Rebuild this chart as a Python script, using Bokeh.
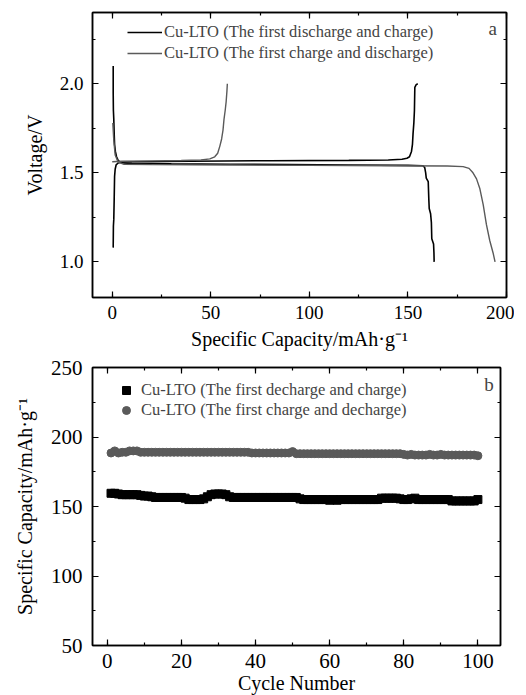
from bokeh.plotting import figure
from bokeh.models import (LinearAxis, SingleIntervalTicker, Legend, LegendItem, Label, Range1d,
                          PrintfTickFormatter, CustomLabelingPolicy)
from bokeh.layouts import column
from bokeh.embed import file_html
from bokeh.resources import INLINE

FONT = "Liberation Serif"
BLACK = "#000000"
GREY = "#5a5a5a"

# ---------------- panel a data (voltage profiles) ----------------
dc_disch_cap = [0.5, 0.5, 0.6, 0.8, 1.0, 1.2, 1.6, 2.2, 3.0, 4.0, 5.5, 10, 30, 60, 90, 120, 150,
                157.5, 158.5, 159.0, 159.3, 160.3, 160.6, 160.8, 161.5, 161.9, 162.1, 163.0, 163.2, 163.3]
dc_disch_v = [2.10, 1.95, 1.85, 1.80, 1.72, 1.66, 1.62, 1.59, 1.57, 1.56, 1.555, 1.553, 1.550, 1.548, 1.546, 1.544, 1.542,
              1.540, 1.530, 1.50, 1.47, 1.45, 1.35, 1.30, 1.27, 1.22, 1.13, 1.10, 1.05, 1.00]
dc_chg_cap = [0.5, 0.6, 0.8, 1.0, 1.2, 1.5, 2.0, 3.0, 4.5, 10, 40, 80, 120, 140, 147, 149.5, 150.8,
              151.8, 152.3, 152.6, 153.0, 153.3, 153.5, 154.2, 155.0]
dc_chg_v = [1.08, 1.20, 1.24, 1.35, 1.48, 1.52, 1.545, 1.555, 1.560, 1.562, 1.565, 1.568, 1.570, 1.572, 1.576, 1.582, 1.590,
            1.62, 1.66, 1.72, 1.78, 1.85, 1.98, 1.995, 2.0]
cd_chg_cap = [0.0, 5, 20, 35, 45, 49.5, 52, 53.5, 54.6, 55.5, 56.2, 56.7, 57.3, 57.8, 58.2, 58.4]
cd_chg_v = [1.562, 1.565, 1.567, 1.569, 1.572, 1.578, 1.59, 1.61, 1.65, 1.69, 1.74, 1.80, 1.85, 1.90, 1.96, 2.0]
cd_disch_cap = [0.3, 0.8, 1.5, 3.0, 6.0, 20, 60, 100, 140, 170, 178, 181, 183, 184.8, 186.5, 188.2, 189.8, 191.5, 193.2, 194.2]
cd_disch_v = [1.78, 1.68, 1.60, 1.56, 1.548, 1.546, 1.544, 1.542, 1.540, 1.538, 1.535, 1.525, 1.50, 1.466, 1.41, 1.32,
              1.21, 1.12, 1.05, 1.0]

# ---------------- panel b data (cycling) ----------------
cycles = list(range(1, 101))
cap_dc = [159.5, 159.5, 159, 158.5, 158.5, 158.5, 158.5, 158.5, 158, 157.5,
          157.5, 157, 156.5, 156.5, 156.5, 156.5, 156.5, 156.5, 156.5, 156.5,
          156, 155, 155, 155, 155, 155.5, 157, 158.5, 159, 159,
          159, 158.5, 157, 156.5, 156.5, 156.5, 156.5, 156.5, 156.5, 156.5,
          156.5, 156.5, 156.5, 156.5, 156.5, 156.5, 156.5, 156.5, 156.5, 156.5,
          156.5, 155.5, 155, 155, 155, 155, 155, 155, 155, 154.5,
          155, 154.5, 155, 155, 155, 155, 155, 155, 155, 155,
          155, 155, 155, 156, 156, 156, 156, 156, 155.5, 155,
          155, 155.5, 156, 155, 155, 155, 155, 155, 155, 155,
          155, 155, 154, 154, 154, 154, 154, 154, 154, 155]
cap_cd = [188.5, 190, 188.5, 189, 189, 190, 190, 190, 189, 189,
          189, 189, 189, 189, 189, 189, 189, 189, 189, 189,
          189, 189, 189, 189, 189, 189, 189, 189, 189, 189,
          189, 189, 189, 189, 189, 189, 189, 189, 188.5, 188.5,
          188.5, 188.5, 188.5, 188.5, 188.5, 188.5, 188.5, 188.5, 188.5, 189.5,
          188, 188, 188, 188, 188, 188, 188, 188, 188, 188,
          188, 188, 188, 188, 188, 188, 188, 188, 188, 188,
          188, 188, 188, 188, 188, 188, 188, 188, 188, 187.5,
          187, 187.5, 187, 187, 187, 187, 187.5, 187, 187, 187.5,
          187, 187, 187, 187, 187, 187, 187, 187, 187, 186.5]

labels_a = ["Cu-LTO (The first discharge and charge)", "Cu-LTO (The first charge and discharge)"]
labels_b = ["Cu-LTO (The first decharge and charge)", "Cu-LTO (The first charge and decharge)"]

HIDE_ALL = "for (const i of indices) { indices.unset(i) }\nreturn indices"


def style(p, xint, yint, tick_fs, title_fs, xstand, ystand, xl_stand, yl_stand, xlabel, ylabel, yfmt=None):
    p.grid.visible = False
    p.outline_line_color = BLACK
    p.outline_line_width = 1.5
    p.background_fill_color = "white"
    p.border_fill_color = "white"
    xa = p.below[0]
    ya = p.left[0]
    xa.ticker = SingleIntervalTicker(interval=xint, num_minor_ticks=2)
    ya.ticker = SingleIntervalTicker(interval=yint, num_minor_ticks=2)
    if yfmt:
        ya.formatter = PrintfTickFormatter(format=yfmt)
    xa.axis_label = xlabel
    ya.axis_label = ylabel
    for ax in (xa, ya):
        ax.axis_line_width = 1.5
        ax.axis_line_color = BLACK
        ax.major_tick_in = 6
        ax.major_tick_out = 0
        ax.minor_tick_in = 3
        ax.minor_tick_out = 0
        ax.major_tick_line_color = BLACK
        ax.minor_tick_line_color = BLACK
        ax.major_tick_line_width = 1.2
        ax.minor_tick_line_width = 1.2
        ax.major_label_text_font = FONT
        ax.major_label_text_font_size = tick_fs
        ax.major_label_text_color = BLACK
        ax.axis_label_text_font = FONT
        ax.axis_label_text_font_size = title_fs
        ax.axis_label_text_font_style = "normal"
        ax.axis_label_text_color = BLACK
    xa.major_label_standoff = xstand
    ya.major_label_standoff = ystand
    xa.axis_label_standoff = xl_stand
    ya.axis_label_standoff = yl_stand
    for side in ("above", "right"):
        ax = LinearAxis(ticker=SingleIntervalTicker(interval=xint if side == "above" else yint, num_minor_ticks=2),
                        major_label_policy=CustomLabelingPolicy(code=HIDE_ALL),
                        major_label_text_font=FONT, major_label_text_font_size="2px", major_label_standoff=0,
                        major_tick_in=6, major_tick_out=0, minor_tick_in=3, minor_tick_out=0,
                        axis_line_width=1.5, major_tick_line_width=1.2, minor_tick_line_width=1.2)
        p.add_layout(ax, side)


# ---------------- panel a ----------------
p1 = figure(frame_width=414, frame_height=285, x_range=Range1d(-10, 200), y_range=Range1d(0.8, 2.4),
            output_backend="svg", toolbar_location=None,
            min_border_left=92, min_border_right=8, min_border_top=12, min_border_bottom=52)
style(p1, 50, 0.5, "19px", "20px", 8, 9, 6, 11,
      "Specific Capacity/mAh·g⁻¹", "Voltage/V", yfmt="%.1f")

r_a1 = p1.line(dc_disch_cap, dc_disch_v, line_color=BLACK, line_width=1.6)
p1.line(dc_chg_cap, dc_chg_v, line_color=BLACK, line_width=1.6)
r_a2 = p1.line(cd_chg_cap, cd_chg_v, line_color=GREY, line_width=1.4)
p1.line(cd_disch_cap, cd_disch_v, line_color=GREY, line_width=1.4)

leg1 = Legend(items=[LegendItem(label=labels_a[0], renderers=[r_a1]),
                     LegendItem(label=labels_a[1], renderers=[r_a2])],
              location=(35, 234), margin=0, padding=0, spacing=1,
              glyph_width=35, glyph_height=20, label_height=20, label_standoff=2,
              label_text_font=FONT, label_text_font_size="16.5px",
              border_line_alpha=0, background_fill_alpha=0)
p1.add_layout(leg1)
p1.add_layout(Label(x=193, y=2.31, text="a", text_font=FONT, text_font_size="19px",
                    text_align="center", text_baseline="middle"))

# ---------------- panel b ----------------
p2 = figure(frame_width=408, frame_height=278, x_range=Range1d(-4, 106.1), y_range=Range1d(50, 250),
            output_backend="svg", toolbar_location=None,
            min_border_left=85, min_border_right=14, min_border_top=15, min_border_bottom=46)
style(p2, 20, 50, "21px", "20px", 8, 10, 1, 12,
      "Cycle Number", "Specific Capacity/mAh·g⁻¹")

r_b1 = p2.scatter(cycles, cap_dc, marker="square", size=8, fill_color=BLACK, line_color=BLACK)
r_b2 = p2.scatter(cycles, cap_cd, marker="circle", size=8, fill_color=GREY, line_color=GREY)

leg2 = Legend(items=[LegendItem(label=labels_b[0], renderers=[r_b1]),
                     LegendItem(label=labels_b[1], renderers=[r_b2])],
              location=(24, 225), margin=0, padding=0, spacing=0,
              glyph_width=20, glyph_height=20, label_height=20, label_standoff=5,
              label_text_font=FONT, label_text_font_size="16.5px",
              border_line_alpha=0, background_fill_alpha=0)
p2.add_layout(leg2)
p2.add_layout(Label(x=103, y=238, text="b", text_font=FONT, text_font_size="19px",
                    text_align="center", text_baseline="middle"))

layout = column(p1, p2, spacing=0)
open("out.html", "w").write(file_html(layout, INLINE))
